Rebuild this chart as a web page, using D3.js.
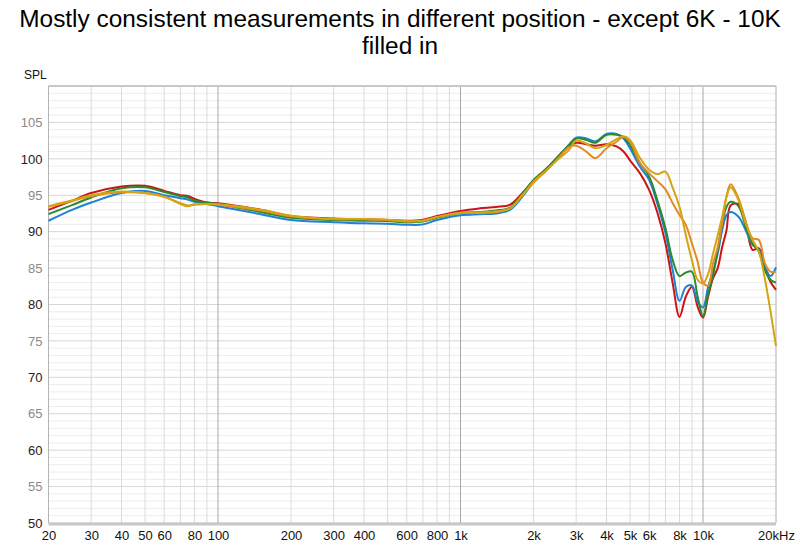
<!DOCTYPE html>
<html>
<head>
<meta charset="utf-8">
<script src="https://cdn.jsdelivr.net/npm/d3@7"></script>
<style>
  html, body { margin: 0; padding: 0; background: #fff; }
  svg { display: block; font-family: "Liberation Sans", Arial, Helvetica, sans-serif; }
</style>
</head>
<body>
<svg id="chart" width="800" height="550"></svg>
<script>
const titleLines = ["Mostly consistent measurements in different position - except 6K - 10K", "filled in"];
const yLabel = "SPL";

const freqs = [20,25,30,40,50,60,70,75,80,90,100,150,200,300,400,500,600,700,800,1000,1200,1400,1600,1800,2000,2250,2500,2800,3000,3300,3600,4000,4400,4700,5000,5500,6000,6500,7000,7500,8000,8500,9000,9500,10000,10500,11000,11500,12000,12500,13000,14000,15000,16000,17000,18000,19000,20000];

const redSeries = [93.0,94.25,95.3,96.2,96.3,95.6,95.0,94.9,94.5,94.0,93.9,93.0,92.15,91.8,91.7,91.6,91.5,91.65,92.15,92.85,93.2,93.4,93.7,95.3,97.0,98.5,100.0,101.7,102.2,102.0,101.8,102.0,101.7,101.0,99.8,98.0,95.7,92.5,88.4,82.9,78.3,81.1,82.45,79.7,78.2,81.1,83.6,85.0,87.9,90.2,93.6,93.8,91.3,87.5,87.7,85.0,83.1,82.0];
const blueSeries = [91.5,93.0,94.0,95.3,95.6,95.0,94.6,94.4,94.1,93.8,93.5,92.4,91.6,91.3,91.15,91.1,90.95,91.0,91.6,92.25,92.4,92.5,93.0,94.8,96.8,98.5,100.1,101.9,102.9,102.8,102.4,103.4,103.4,102.8,101.45,98.9,97.1,93.7,89.8,84.7,80.5,82.4,82.6,80.4,79.6,82.45,84.5,87.0,90.2,92.3,92.7,92.05,90.2,88.2,87.5,85.2,83.9,85.1];
const greenSeries = [92.4,93.65,94.7,95.95,96.1,95.45,94.9,94.7,94.25,94.0,93.8,92.7,91.9,91.6,91.5,91.45,91.3,91.4,91.9,92.55,92.7,92.9,93.3,95.2,97.1,98.6,100.2,101.9,102.8,102.6,102.2,103.3,103.3,103.0,101.9,99.4,97.55,94.2,90.5,86.1,83.9,84.4,84.5,81.1,78.4,81.5,84.0,87.5,91.15,93.4,94.1,93.5,90.7,88.4,87.25,84.7,83.4,83.0];
const orangeSeries = [93.4,94.2,94.9,95.4,95.3,94.8,93.9,93.6,93.7,93.8,93.7,92.9,92.1,91.7,91.7,91.6,91.4,91.5,92.0,92.6,92.65,92.8,93.2,95.0,96.9,98.4,99.9,101.6,101.8,101.0,100.1,101.45,102.35,103.0,102.35,99.4,98.0,96.9,95.8,93.9,92.3,90.9,88.4,85.9,83.0,82.6,85.65,87.9,91.15,94.8,96.5,94.6,91.4,89.1,88.85,85.65,84.5,84.5];
const goldSeries = [93.5,94.3,95.0,95.5,95.3,94.8,93.8,93.5,93.75,93.8,93.75,93.0,92.2,91.75,91.75,91.65,91.45,91.5,92.0,92.6,92.6,92.7,93.2,95.0,96.7,98.3,99.8,101.2,102.5,102.1,101.45,101.9,102.7,103.1,102.6,100.1,98.5,97.9,98.25,96.0,93.4,89.5,86.1,83.4,82.9,84.2,87.0,89.5,92.05,94.8,96.1,94.35,91.15,88.85,87.25,83.5,79.0,74.3];

const seriesNames = ["Position 1","Position 2","Position 3","Position 4","Position 5"];
const seriesColors = ["#cc1414","#1f80d6","#2a8a2e","#e38a22","#d4a512"];
const seriesValues = [redSeries, blueSeries, greenSeries, orangeSeries, goldSeries];

const xTickValues = [20,30,40,50,60,80,100,200,300,400,600,800,1000,2000,3000,4000,5000,6000,8000,10000,20000];
const xTickLabels = ["20","30","40","50","60","80","100","200","300","400","600","800","1k","2k","3k","4k","5k","6k","8k","10k","20kHz"];
const yTickValues = [50,55,60,65,70,75,80,85,90,95,100,105];

const svg = d3.select("#chart");
const W = 800, H = 550;
const margin = {left: 48.5, right: 24, top: 86, bottom: 27};
const x = d3.scaleLog().domain([20, 20000]).range([margin.left, W - margin.right]);
const y = d3.scaleLinear().domain([50, 110]).range([H - margin.bottom, margin.top]);

// Title
const title = svg.append("g");
titleLines.forEach((t, i) => {
  title.append("text")
    .attr("x", 400).attr("y", 27 + i * 27)
    .attr("text-anchor", "middle")
    .attr("font-size", 22)
    .attr("fill", "#000")
    .text(t);
});
// fit first line to target width
const first = title.select("text").node();
const len = first.getComputedTextLength();
const target = 762;
const fs = 22 * target / len;
title.selectAll("text").attr("font-size", fs);

// Grid
const grid = svg.append("g");
const hMinor = d3.range(50, 111, 1);
grid.selectAll("line.h").data(hMinor).enter().append("line")
  .attr("x1", x(20)).attr("x2", x(20000))
  .attr("y1", d => y(d)).attr("y2", d => y(d))
  .attr("stroke", d => d % 5 === 0 ? "#d6d6d6" : "#ececec")
  .attr("stroke-width", 1);

const vLines = [];
[10, 100, 1000, 10000].forEach(dec => {
  for (let k = 1; k <= 9; k++) {
    const f = dec * k;
    if (f > 20 && f < 20000) vLines.push(f);
  }
});
grid.selectAll("line.v").data(vLines).enter().append("line")
  .attr("x1", d => x(d)).attr("x2", d => x(d))
  .attr("y1", y(110)).attr("y2", y(50))
  .attr("stroke", d => (d === 100 || d === 1000 || d === 10000) ? "#a8a8a8" : "#dcdcdc")
  .attr("stroke-width", 1);

// Borders
svg.append("line").attr("x1", x(20)).attr("x2", x(20000)).attr("y1", y(110)).attr("y2", y(110))
  .attr("stroke", "#c8c8c8").attr("stroke-width", 2);
svg.append("line").attr("x1", x(20)).attr("x2", x(20000)).attr("y1", y(50) + 1).attr("y2", y(50) + 1)
  .attr("stroke", "#c8c8c8").attr("stroke-width", 3);
svg.append("line").attr("x1", x(20)).attr("x2", x(20)).attr("y1", y(110)).attr("y2", y(50))
  .attr("stroke", "#b4b4b4").attr("stroke-width", 1);
svg.append("line").attr("x1", x(20000)).attr("x2", x(20000)).attr("y1", y(110)).attr("y2", y(50))
  .attr("stroke", "#c8c8c8").attr("stroke-width", 1.5);

// Y axis labels
const yAxis = d3.axisLeft(y).tickValues(yTickValues).tickSize(0).tickPadding(6).tickFormat(d3.format("d"));
const yg = svg.append("g").attr("transform", `translate(${x(20)},0)`).call(yAxis);
yg.select(".domain").remove();
yg.selectAll("text")
  .attr("font-family", "Liberation Sans, Arial, sans-serif")
  .attr("font-size", 13)
  .attr("fill", d => d % 10 === 0 ? "#222" : "#8a8a8a");

svg.append("text").attr("x", 24).attr("y", 79).attr("font-size", 12).attr("fill", "#111").text(yLabel);

// X axis labels
const xAxis = d3.axisBottom(x).tickValues(xTickValues).tickSize(0).tickPadding(8)
  .tickFormat((d, i) => xTickLabels[i]);
const xg = svg.append("g").attr("transform", `translate(0,${y(50)})`).call(xAxis);
xg.select(".domain").remove();
xg.selectAll("text")
  .attr("font-family", "Liberation Sans, Arial, sans-serif")
  .attr("font-size", 13)
  .attr("fill", "#111");

// Lines
const line = d3.line()
  .x(d => x(d[0]))
  .y(d => y(d[1]))
  .curve(d3.curveCatmullRom.alpha(0.5));

const plot = svg.append("g");
seriesValues.forEach((vals, i) => {
  plot.append("path")
    .datum(freqs.map((f, j) => [f, vals[j]]))
    .attr("fill", "none")
    .attr("stroke", seriesColors[i])
    .attr("stroke-width", 2)
    .attr("stroke-linejoin", "round")
    .attr("d", line)
    .append("title").text(seriesNames[i]);
});
</script>
</body>
</html>
